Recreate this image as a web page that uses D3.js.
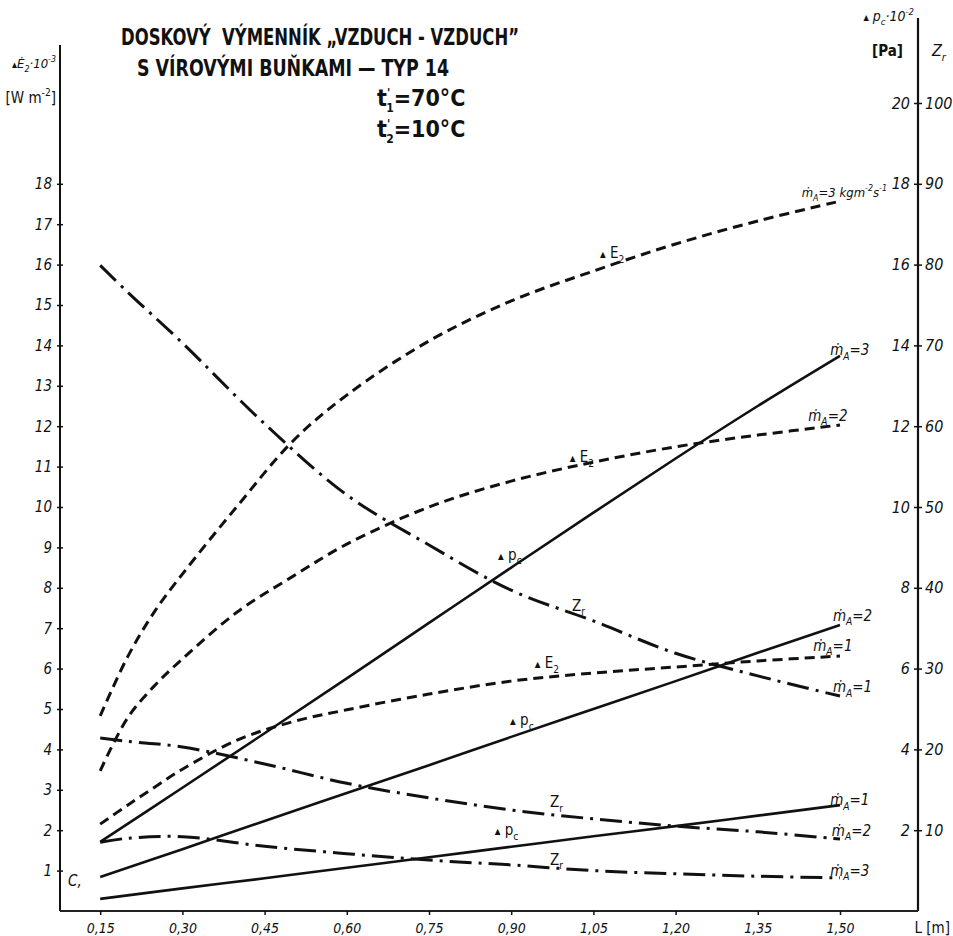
<!DOCTYPE html>
<html>
<head>
<meta charset="utf-8">
<script src="https://cdn.jsdelivr.net/npm/d3@7"></script>
<style>
  body { margin: 0; background: #fff; }
  svg { display: block; }
  text { fill: #111; }
  .num { font-family: "Liberation Sans Narrow", "DejaVu Sans Condensed", sans-serif; font-style: italic; }
  .ttl { font-family: "DejaVu Sans Condensed", "Liberation Sans Narrow", sans-serif; font-weight: bold; white-space: pre; }
</style>
</head>
<body>
<svg width="953" height="936"></svg>
<script>
// L [m] sample points
const lenE = [0.15, 0.20, 0.25, 0.30, 0.40, 0.50, 0.60, 0.75, 0.90, 1.05, 1.20, 1.35, 1.50];
const lenP = [0.15, 0.30, 0.45, 0.60, 0.75, 0.90, 1.05, 1.20, 1.35, 1.50];
const lenZ = [0.15, 0.20, 0.30, 0.45, 0.60, 0.75, 0.90, 1.05, 1.20, 1.35, 1.50];

// dE2 * 10^3 [W m-2]  (dashed)
const dE_m3 = [4.83, 6.29, 7.43, 8.34, 10.02, 11.61, 12.77, 14.11, 15.10, 15.84, 16.51, 17.08, 17.57];
const dE_m2 = [3.47, 4.78, 5.59, 6.24, 7.40, 8.27, 9.08, 10.00, 10.64, 11.11, 11.49, 11.78, 12.03];
const dE_m1 = [2.15, 2.62, 3.07, 3.51, 4.23, 4.68, 4.98, 5.37, 5.69, 5.89, 6.04, 6.19, 6.31];

// dpc * 10^-2 [Pa]  (solid)
const dp_m3 = [1.71, 3.05, 4.40, 5.76, 7.13, 8.50, 9.86, 11.20, 12.50, 13.74];
const dp_m2 = [0.84, 1.53, 2.23, 2.92, 3.61, 4.31, 5.00, 5.69, 6.39, 7.08];
const dp_m1 = [0.30, 0.56, 0.81, 1.07, 1.33, 1.59, 1.85, 2.10, 2.36, 2.62];

// Zr  (dash-dot)
const zr_m1 = [79.9, 76.6, 70.3, 60.3, 51.5, 45.3, 39.7, 35.9, 31.9, 29.1, 26.6];
const zr_m2 = [21.4, 21.0, 20.3, 18.2, 15.8, 14.0, 12.5, 11.4, 10.5, 9.8, 8.9];
const zr_m3 = [8.5, 9.0, 9.2, 8.0, 7.1, 6.3, 5.7, 5.0, 4.6, 4.3, 4.1];

// tick values
const xTicks = [0.15, 0.30, 0.45, 0.60, 0.75, 0.90, 1.05, 1.20, 1.35, 1.50];
const leftTicks = d3.range(1, 19);
const pcTicks = [2, 4, 6, 8, 10, 12, 14, 16, 18, 20];
const zTicks = [10, 20, 30, 40, 50, 60, 70, 80, 90, 100];

const svg = d3.select("svg");

const axL = 60, axR = 918, axB = 911;
const x = d3.scaleLinear().domain([0, 1.5]).range([18, 840]);
const yE = d3.scaleLinear().domain([0, 18]).range([axB, axB - 18 * 40.4]);
const yP = yE.copy(); // dpc.10^-2 shares the left scale
const yZ = d3.scaleLinear().domain([0, 100]).range([axB, axB - 20 * 40.4]);

// rich text helper: parts [text, kind]  kind: n | sub | sup | tri
function rich(sel, parts, size) {
  let shift = 0;
  parts.forEach(function(p) {
    const k = p[1];
    const target = k === "sub" ? size * 0.3 : k === "sup" ? -size * 0.45 : (k === "tri" ? -size * 0.05 : 0);
    const fs = k === "n" ? size : k === "tri" ? size * 0.55 : size * 0.68;
    sel.append("tspan").attr("dy", target - shift).attr("font-size", fs).text(p[0]);
    shift = target;
  });
  return sel;
}

// ---- axes ----
svg.append("line").attr("x1", axL).attr("x2", axL).attr("y1", 45).attr("y2", axB)
  .attr("stroke", "#111").attr("stroke-width", 2);
svg.append("line").attr("x1", axR).attr("x2", axR).attr("y1", 18).attr("y2", axB)
  .attr("stroke", "#111").attr("stroke-width", 2.2);
svg.append("line").attr("x1", axL).attr("x2", axR).attr("y1", axB).attr("y2", axB)
  .attr("stroke", "#222").attr("stroke-width", 2);

function styleAxis(g, size) {
  g.select(".domain").remove();
  g.selectAll(".tick line").attr("stroke", "#111").attr("stroke-width", 1.5);
  g.selectAll(".tick text").attr("class", "num").attr("font-size", size).attr("fill", "#111");
}

const gL = svg.append("g").attr("transform", `translate(${axL},0)`)
  .call(d3.axisLeft(yE).tickValues(leftTicks).tickSize(3).tickPadding(5).tickFormat(d3.format("d")));
styleAxis(gL, 15);
gL.selectAll(".tick line").attr("x1", -3).attr("x2", 3);

const gP = svg.append("g").attr("transform", `translate(${axR},0)`)
  .call(d3.axisLeft(yP).tickValues(pcTicks).tickSize(4).tickPadding(4).tickFormat(d3.format("d")));
styleAxis(gP, 16);

const gZ = svg.append("g").attr("transform", `translate(${axR},0)`)
  .call(d3.axisRight(yZ).tickValues(zTicks).tickSize(4).tickPadding(3).tickFormat(d3.format("d")));
styleAxis(gZ, 16);

const gX = svg.append("g").attr("transform", `translate(0,${axB})`)
  .call(d3.axisBottom(x).tickValues(xTicks).tickSize(4).tickPadding(8)
    .tickFormat(d => d.toFixed(2).replace(".", ",")));
styleAxis(gX, 14);

// axis titles
rich(svg.append("text").attr("class", "num").attr("x", 56).attr("y", 68).attr("text-anchor", "end"),
  [["▲", "tri"], ["Ė", "n"], ["2", "sub"], ["·10", "n"], ["-3", "sup"]], 13);
rich(svg.append("text").attr("class", "num").attr("x", 56).attr("y", 103).attr("text-anchor", "end")
  .style("font-style", "normal"),
  [["[W m", "n"], ["-2", "sup"], ["]", "n"]], 15);

rich(svg.append("text").attr("class", "num").attr("x", 914).attr("y", 21).attr("text-anchor", "end"),
  [["▲", "tri"], [" p", "n"], ["c", "sub"], ["·10", "n"], ["-2", "sup"]], 14);
svg.append("text").attr("class", "num").attr("x", 903).attr("y", 56).attr("text-anchor", "end")
  .style("font-style", "normal").style("font-weight", "bold").attr("font-size", 15).text("[Pa]");
rich(svg.append("text").attr("class", "num").attr("x", 932).attr("y", 56),
  [["Z", "n"], ["r", "sub"]], 16);

svg.append("text").attr("class", "num").attr("x", 950).attr("y", 933).attr("text-anchor", "end")
  .style("font-style", "normal").attr("font-size", 15).text("L [m]");

// ---- title ----
svg.append("text").attr("class", "ttl").attr("x", 121).attr("y", 45).attr("font-size", 23)
  .attr("textLength", 398).attr("lengthAdjust", "spacingAndGlyphs")
  .text("DOSKOVÝ  VÝMENNÍK „VZDUCH - VZDUCH\u201D");
svg.append("text").attr("class", "ttl").attr("x", 137).attr("y", 76).attr("font-size", 23)
  .attr("textLength", 312).attr("lengthAdjust", "spacingAndGlyphs")
  .text("S VÍROVÝMI BUŇKAMI — TYP 14");

function tLine(yb, idx, val) {
  const t = svg.append("text").attr("class", "ttl").attr("x", 377).attr("y", yb).attr("font-size", 23);
  t.append("tspan").text("t");
  t.append("tspan").attr("font-size", 12).attr("dy", -9).text("'");
  t.append("tspan").attr("font-size", 12).attr("dx", -4).attr("dy", 15).text(idx);
  t.append("tspan").attr("dy", -6).text("=" + val + "°C");
}
tLine(106, "1", "70");
tLine(137, "2", "10");

// ---- curves ----
const series = [
  { L: lenE, v: dE_m3, y: yE, dash: "10,6", w: 3 },
  { L: lenE, v: dE_m2, y: yE, dash: "10,6", w: 3 },
  { L: lenE, v: dE_m1, y: yE, dash: "10,6", w: 3 },
  { L: lenP, v: dp_m3, y: yP, dash: null, w: 2.6 },
  { L: lenP, v: dp_m2, y: yP, dash: null, w: 2.6 },
  { L: lenP, v: dp_m1, y: yP, dash: null, w: 2.6 },
  { L: lenZ, v: zr_m1, y: yZ, dash: "22,7,3,7", w: 3 },
  { L: lenZ, v: zr_m2, y: yZ, dash: "22,7,3,7", w: 3 },
  { L: lenZ, v: zr_m3, y: yZ, dash: "22,7,3,7", w: 3 }
];

series.forEach(function(s) {
  const pts = s.L.map((l, i) => [l, s.v[i]]);
  const line = d3.line()
    .x(d => x(d[0]))
    .y(d => s.y(d[1]))
    .curve(d3.curveCatmullRom.alpha(0.5));
  svg.append("path")
    .attr("d", line(pts))
    .attr("fill", "none")
    .attr("stroke", "#111")
    .attr("stroke-width", s.w)
    .attr("stroke-dasharray", s.dash)
    .attr("stroke-linecap", "butt");
});

// ---- curve tags (placed in data coordinates, left axis units) ----
const tagE = [["▲", "tri"], [" E", "n"], ["2", "sub"]];
const tagP = [["▲", "tri"], [" p", "n"], ["c", "sub"]];
const tagZ = [["Z", "n"], ["r", "sub"]];
const tags = [
  { p: tagE, L: 1.062, v: 16.16 },
  { p: tagE, L: 1.007, v: 11.11 },
  { p: tagE, L: 0.943, v: 6.01 },
  { p: tagP, L: 0.876, v: 8.69 },
  { p: tagP, L: 0.898, v: 4.60 },
  { p: tagP, L: 0.870, v: 1.88 },
  { p: tagZ, L: 1.011, v: 7.43 },
  { p: tagZ, L: 0.971, v: 2.57 },
  { p: tagZ, L: 0.971, v: 1.14 }
];
tags.forEach(function(t) {
  rich(svg.append("text").attr("x", x(t.L)).attr("y", yE(t.v))
    .style("font-family", "'DejaVu Sans Condensed', sans-serif"), t.p, 15);
});

function mA(n, unit) {
  const p = [["ṁ", "n"], ["A", "sub"], ["=" + n, "n"]];
  if (unit) p.push([" kgm", "n"], ["-2", "sup"], ["s", "n"], ["-1", "sup"]);
  return p;
}
const ends = [
  { p: mA("3", true), L: 1.43, v: 17.67 },
  { p: mA("3"), L: 1.482, v: 13.76 },
  { p: mA("2"), L: 1.442, v: 12.13 },
  { p: mA("2"), L: 1.487, v: 7.18 },
  { p: mA("1"), L: 1.451, v: 6.44 },
  { p: mA("1"), L: 1.487, v: 5.42 },
  { p: mA("1"), L: 1.482, v: 2.62 },
  { p: mA("2"), L: 1.485, v: 1.86 },
  { p: mA("3"), L: 1.482, v: 0.87 }
];
ends.forEach(function(t, i) {
  rich(svg.append("text").attr("class", "num").attr("x", x(t.L)).attr("y", yE(t.v)), t.p, i === 0 ? 13 : 15);
});

// small stray mark near the origin of the scan
svg.append("text").attr("class", "num").attr("x", 68).attr("y", 886)
  .attr("font-size", 15).attr("fill", "#444").text("C,");
</script>
</body>
</html>
